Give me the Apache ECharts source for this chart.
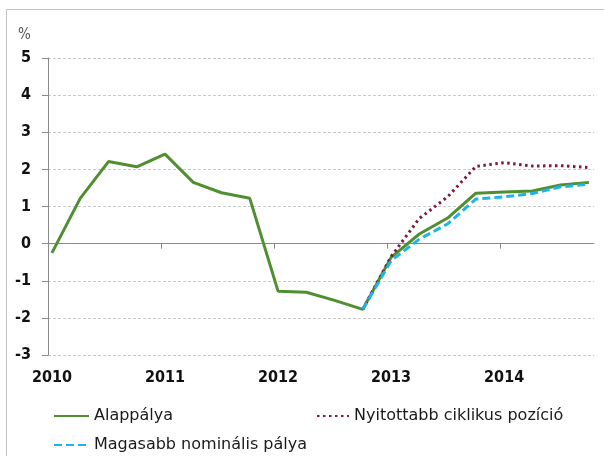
<!DOCTYPE html>
<html>
<head>
<meta charset="utf-8">
<script src="https://cdn.jsdelivr.net/npm/echarts@6/dist/echarts.min.js"></script>
<style>
  html, body { margin: 0; padding: 0; background: #fff; }
  #chart { width: 604px; height: 456px; }
</style>
</head>
<body>
<div id="chart"></div>
<script>
var years = [2010, 2011, 2012, 2013, 2014];
var quarterX = years.flatMap(y => [y, y + 0.25, y + 0.5, y + 0.75]);

var alappalya = [-0.25, 1.22, 2.21, 2.07, 2.41, 1.65, 1.37, 1.22, -1.28, -1.31,
    -1.53, -1.77, -0.37, 0.26, 0.69, 1.36, 1.39, 1.42, 1.58, 1.65];
var nyitottabb = [null, null, null, null, null, null, null, null, null, null,
    null, -1.77, -0.35, 0.68, 1.26, 2.08, 2.18, 2.09, 2.10, 2.05];
var magasabb = [null, null, null, null, null, null, null, null, null, null,
    null, -1.77, -0.46, 0.12, 0.53, 1.20, 1.26, 1.35, 1.53, 1.60];

var yTicks = [-3, -2, -1, 0, 1, 2, 3, 4, 5];

function toPairs(values) {
    var out = [];
    values.forEach((v, i) => {
        if (v !== null) out.push([quarterX[i], v]);
    });
    return out;
}

var xMin = 2009.965;
var xMax = 2014.795;
var yearTicks = years.slice(1).map(y => y - 0.033);

var labelFont = {
    color: '#111',
    fontFamily: 'DejaVu Sans Condensed, DejaVu Sans',
    fontWeight: 'bold',
    fontSize: 16
};

var legendText = {
    color: '#1a1a1a',
    fontFamily: 'DejaVu Sans',
    fontSize: 16
};

var options = {
    animation: false,
    backgroundColor: '#fff',
    grid: {
        left: 48,
        right: 10,
        top: 58,
        bottom: 101
    },
    graphic: [{
        type: 'rect',
        shape: { x: 6.5, y: 9.5, width: 700, height: 600 },
        style: { fill: 'none', stroke: '#c4c4c4', lineWidth: 1 },
        silent: true
    }, {
        type: 'text',
        left: 18,
        top: 28,
        style: {
            text: '%',
            fill: '#555',
            font: '15px "DejaVu Sans Condensed"'
        }
    }],
    legend: [{
        data: ['Alappálya'],
        left: 48,
        top: 403,
        itemWidth: 35,
        itemHeight: 16,
        itemStyle: { opacity: 0 },
        textStyle: legendText
    }, {
        data: ['Nyitottabb ciklikus pozíció'],
        left: 311,
        top: 403,
        itemWidth: 32,
        itemHeight: 16,
        itemStyle: { opacity: 0 },
        textStyle: legendText
    }, {
        data: ['Magasabb nominális pálya'],
        left: 48,
        top: 432,
        itemWidth: 35,
        itemHeight: 16,
        itemStyle: { opacity: 0 },
        textStyle: legendText
    }],
    xAxis: [{
        type: 'value',
        min: xMin,
        max: xMax,
        position: 'bottom',
        axisLine: { show: false, onZero: false },
        axisTick: { show: false },
        splitLine: { show: false },
        axisLabel: Object.assign({
            customValues: years,
            margin: 15,
            formatter: v => String(v)
        }, labelFont)
    }, {
        type: 'value',
        min: xMin,
        max: xMax,
        position: 'bottom',
        axisLine: { show: true, onZero: true, lineStyle: { color: '#8a8a8a', width: 1 } },
        axisTick: {
            show: true,
            customValues: yearTicks,
            length: 5,
            lineStyle: { color: '#8a8a8a' }
        },
        splitLine: { show: false },
        axisLabel: { show: false }
    }],
    yAxis: {
        type: 'value',
        min: yTicks[0],
        max: yTicks[yTicks.length - 1],
        interval: 1,
        axisLine: { show: true, onZero: false, lineStyle: { color: '#8a8a8a', width: 1 } },
        axisTick: { show: true, length: 6, lineStyle: { color: '#8a8a8a' } },
        splitLine: {
            show: true,
            lineStyle: { color: '#c8c8c8', type: [3, 2], width: 1 }
        },
        axisLabel: Object.assign({ margin: 17, padding: [0, 0, 5, 0] }, labelFont)
    },
    series: [{
        name: 'Alappálya',
        type: 'line',
        symbol: 'none',
        data: toPairs(alappalya),
        lineStyle: { color: '#4f8f2f', width: 3 },
        itemStyle: { color: '#4f8f2f' }
    }, {
        name: 'Nyitottabb ciklikus pozíció',
        type: 'line',
        symbol: 'none',
        data: toPairs(nyitottabb),
        lineStyle: { color: '#7b1c3d', width: 3, type: [2.5, 3.5] },
        itemStyle: { color: '#7b1c3d' }
    }, {
        name: 'Magasabb nominális pálya',
        type: 'line',
        symbol: 'none',
        data: toPairs(magasabb),
        lineStyle: { color: '#1cb4ec', width: 3, type: [8, 4] },
        itemStyle: { color: '#1cb4ec' }
    }]
};

var chart = echarts.init(document.getElementById('chart'));
chart.setOption(options);
</script>
</body>
</html>
